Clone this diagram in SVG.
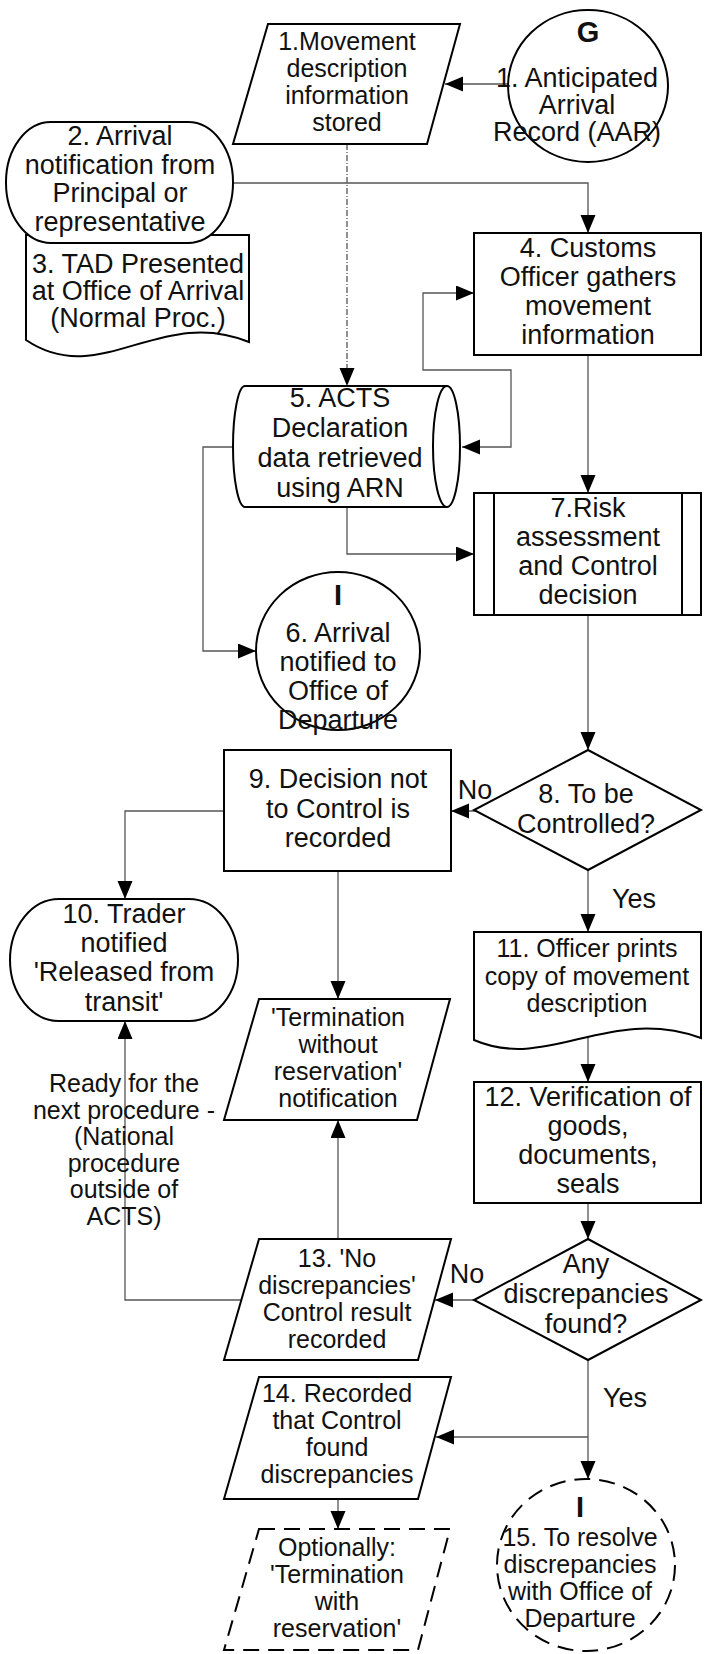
<svg xmlns="http://www.w3.org/2000/svg" width="705" height="1654" viewBox="0 0 705 1654">
<defs>
<marker id="arr" markerUnits="userSpaceOnUse" markerWidth="18" markerHeight="16" refX="18" refY="7.5" orient="auto-start-reverse">
<path d="M0,0 L18,7.5 L0,15 Z" fill="#000"/>
</marker>
<style>
.s{fill:#fff;stroke:#000;stroke-width:2}
.d{fill:#fff;stroke:#000;stroke-width:2;stroke-dasharray:16 9}
.c{fill:none;stroke:#555;stroke-width:1.3}
text{font-family:"Liberation Sans",Arial,sans-serif;text-anchor:middle;fill:#111}
.a{font-size:27px}
.b{font-size:25px}
.k{font-size:29px;font-weight:bold}
</style>
</defs>
<rect width="705" height="1654" fill="#fff"/>

<g id="connectors">
<path class="c" d="M509,84 H445" marker-end="url(#arr)"/>
<path class="c" d="M233,183 H588 V233" marker-end="url(#arr)"/>
<path class="c" d="M347,144 V386" stroke-dasharray="6 2 1 2" marker-end="url(#arr)"/>
<path class="c" d="M462,447 H511 V370 H423 V293 H474" marker-start="url(#arr)" marker-end="url(#arr)"/>
<path class="c" d="M588,355 V493" marker-end="url(#arr)"/>
<path class="c" d="M233,447 H203 V651 H256" marker-end="url(#arr)"/>
<path class="c" d="M347,507 V554 H474" marker-end="url(#arr)"/>
<path class="c" d="M588,615 V750" marker-end="url(#arr)"/>
<path class="c" d="M505,811 H451" marker-end="url(#arr)"/>
<path class="c" d="M224,811 H125 V899" marker-end="url(#arr)"/>
<path class="c" d="M338,871 V999" marker-end="url(#arr)"/>
<path class="c" d="M588,870 V932" marker-end="url(#arr)"/>
<path class="c" d="M588,1030 V1082" marker-end="url(#arr)"/>
<path class="c" d="M588,1193 V1239" marker-end="url(#arr)"/>
<path class="c" d="M474,1300 H435" marker-end="url(#arr)"/>
<path class="c" d="M338,1239 V1120" marker-end="url(#arr)"/>
<path class="c" d="M241,1300 H125 V1021" marker-end="url(#arr)"/>
<path class="c" d="M588,1360 V1479" marker-end="url(#arr)"/>
<path class="c" d="M588,1437 H436" marker-end="url(#arr)"/>
<path class="c" d="M338,1480 V1529" marker-end="url(#arr)"/>
</g>

<g id="n1">
<polygon class="s" points="268,24 460,24 427,144 233,144"/>
<text class="b" x="347" y="49.5">1.Movement</text>
<text class="b" x="347" y="76.5">description</text>
<text class="b" x="347" y="103.5">information</text>
<text class="b" x="347" y="130.5">stored</text>
</g>

<g id="nG">
<ellipse class="s" cx="588" cy="86" rx="80" ry="76"/>
<text class="k" x="588" y="42">G</text>
<text class="a" x="577" y="87">1. Anticipated</text>
<text class="a" x="577" y="114">Arrival</text>
<text class="a" x="577" y="141">Record (AAR)</text>
</g>

<g id="n3">
<path class="s" d="M26,235 H249 V342 C160,305 100,390 26,340 Z"/>
<text class="a" x="138" y="273">3. TAD Presented</text>
<text class="a" x="138" y="300">at Office of Arrival</text>
<text class="a" x="138" y="327">(Normal Proc.)</text>
</g>

<g id="n2">
<rect class="s" x="6" y="122" width="227" height="121" rx="45" ry="60"/>
<text class="a" x="120" y="145">2. Arrival</text>
<text class="a" x="120" y="173.5">notification from</text>
<text class="a" x="120" y="202">Principal or</text>
<text class="a" x="120" y="230.5">representative</text>
</g>

<g id="n4">
<rect class="s" x="474" y="233" width="227" height="122"/>
<text class="a" x="588" y="257">4. Customs</text>
<text class="a" x="588" y="286">Officer gathers</text>
<text class="a" x="588" y="315">movement</text>
<text class="a" x="588" y="344">information</text>
</g>

<g id="n5">
<path class="s" d="M245,386 H447 A13,60.5 0 0 1 447,507 H245 A12,60.5 0 0 1 245,386 Z"/>
<path class="s" fill="none" d="M447,386 A14,60.5 0 0 0 447,507"/>
<text class="a" x="340" y="407">5. ACTS</text>
<text class="a" x="340" y="437">Declaration</text>
<text class="a" x="340" y="467">data retrieved</text>
<text class="a" x="340" y="497">using ARN</text>
</g>

<g id="n7">
<rect class="s" x="474" y="493" width="227" height="122"/>
<line class="s" x1="494" y1="493" x2="494" y2="615"/>
<line class="s" x1="682" y1="493" x2="682" y2="615"/>
<text class="a" x="588" y="517">7.Risk</text>
<text class="a" x="588" y="546">assessment</text>
<text class="a" x="588" y="575">and Control</text>
<text class="a" x="588" y="604">decision</text>
</g>

<g id="n6">
<ellipse class="s" cx="338" cy="651" rx="82" ry="79"/>
<text class="k" x="338" y="605">I</text>
<text class="a" x="338" y="642">6. Arrival</text>
<text class="a" x="338" y="671">notified to</text>
<text class="a" x="338" y="700">Office of</text>
<text class="a" x="338" y="729">Departure</text>
</g>

<g id="n8">
<polygon class="s" points="588,750 701,810 588,870 474,810"/>
<text class="a" x="586" y="803">8. To be</text>
<text class="a" x="586" y="833">Controlled?</text>
<text class="a" x="475" y="799">No</text>
<text class="a" x="634" y="908">Yes</text>
</g>

<g id="n9">
<rect class="s" x="224" y="750" width="227" height="121"/>
<text class="a" x="338" y="788">9. Decision not</text>
<text class="a" x="338" y="818">to Control is</text>
<text class="a" x="338" y="847">recorded</text>
</g>

<g id="n10">
<rect class="s" x="10" y="899" width="228" height="122" rx="49" ry="61"/>
<text class="a" x="124" y="923">10. Trader</text>
<text class="a" x="124" y="952">notified</text>
<text class="a" x="124" y="981">'Released from</text>
<text class="a" x="124" y="1011">transit'</text>
</g>

<g id="nTerm">
<polygon class="s" points="259,999 450,999 417,1120 224,1120"/>
<text class="b" x="338" y="1026">'Termination</text>
<text class="b" x="338" y="1053">without</text>
<text class="b" x="338" y="1080">reservation'</text>
<text class="b" x="338" y="1107">notification</text>
</g>

<g id="n11">
<path class="s" d="M474,932 H701 V1038 C608,1005 548,1072 474,1040 Z"/>
<text class="b" x="587" y="957">11. Officer prints</text>
<text class="b" x="587" y="985">copy of movement</text>
<text class="b" x="587" y="1012">description</text>
</g>

<g id="n12">
<rect class="s" x="474" y="1082" width="227" height="121"/>
<text class="a" x="588" y="1106">12. Verification of</text>
<text class="a" x="588" y="1135">goods,</text>
<text class="a" x="588" y="1164">documents,</text>
<text class="a" x="588" y="1193">seals</text>
</g>

<g id="lblReady">
<text class="b" x="124" y="1092">Ready for the</text>
<text class="b" x="124" y="1118.5">next procedure -</text>
<text class="b" x="124" y="1145">(National</text>
<text class="b" x="124" y="1171.5">procedure</text>
<text class="b" x="124" y="1198">outside of</text>
<text class="b" x="124" y="1224.5">ACTS)</text>
</g>

<g id="nAny">
<polygon class="s" points="588,1239 701,1300 588,1360 474,1300"/>
<text class="a" x="586" y="1273">Any</text>
<text class="a" x="586" y="1303">discrepancies</text>
<text class="a" x="586" y="1333">found?</text>
<text class="a" x="467" y="1283">No</text>
<text class="a" x="625" y="1407">Yes</text>
</g>

<g id="n13">
<polygon class="s" points="259,1239 451,1239 418,1360 224,1360"/>
<text class="b" x="337" y="1267">13. 'No</text>
<text class="b" x="337" y="1294">discrepancies'</text>
<text class="b" x="337" y="1321">Control result</text>
<text class="b" x="337" y="1348">recorded</text>
</g>

<g id="n14">
<polygon class="s" points="259,1377 451,1377 418,1499 224,1499"/>
<text class="b" x="337" y="1402">14. Recorded</text>
<text class="b" x="337" y="1429">that Control</text>
<text class="b" x="337" y="1456">found</text>
<text class="b" x="337" y="1483">discrepancies</text>
</g>

<g id="nOpt">
<polygon class="d" points="259,1529 450,1529 418,1650 224,1650"/>
<text class="b" x="337" y="1556">Optionally:</text>
<text class="b" x="337" y="1583">'Termination</text>
<text class="b" x="337" y="1610">with</text>
<text class="b" x="337" y="1637">reservation'</text>
</g>

<g id="n15">
<ellipse class="d" cx="586" cy="1565" rx="89" ry="86"/>
<text class="k" x="580" y="1517">I</text>
<text class="b" x="580" y="1546">15. To resolve</text>
<text class="b" x="580" y="1573">discrepancies</text>
<text class="b" x="580" y="1600">with Office of</text>
<text class="b" x="580" y="1627">Departure</text>
</g>
</svg>
